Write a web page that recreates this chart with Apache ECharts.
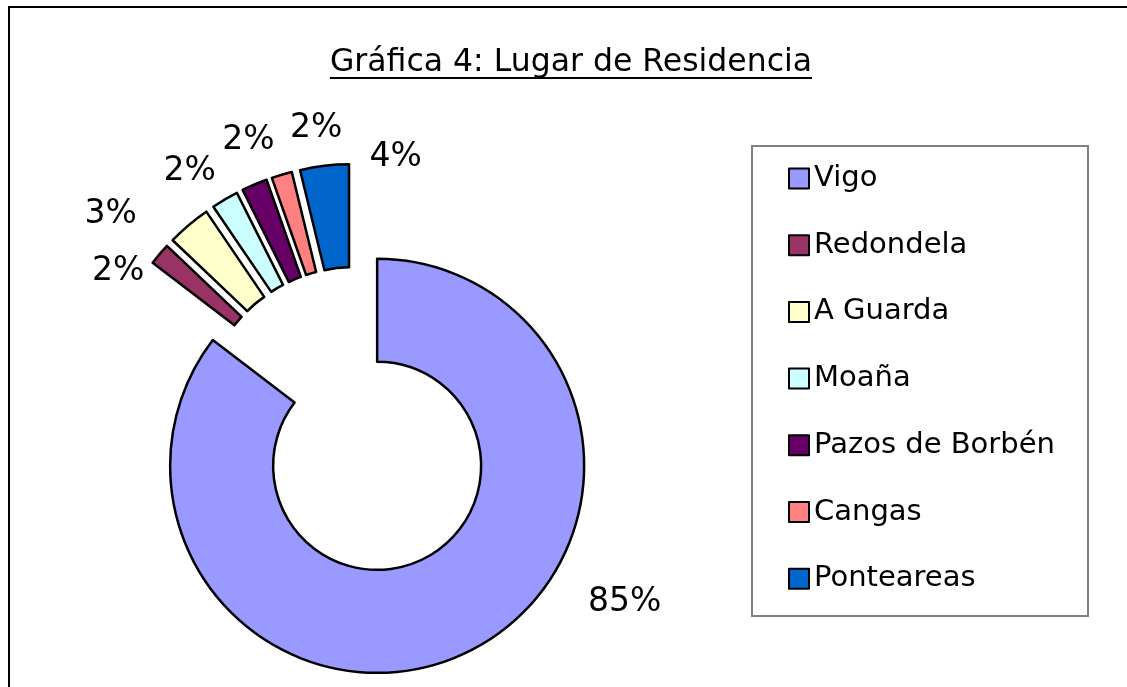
<!DOCTYPE html>
<html>
<head>
<meta charset="utf-8">
<script src="https://cdn.jsdelivr.net/npm/echarts@6/dist/echarts.min.js"></script>
<style>
  html, body { margin: 0; padding: 0; background: #fff; }
  #chart { width: 1127px; height: 687px; }
</style>
</head>
<body>
<div id="chart"></div>
<script>
  // datos (porcentaje de cada lugar)
  const categories = ['Vigo', 'Redondela', 'A Guarda', 'Moaña', 'Pazos de Borbén', 'Cangas', 'Ponteareas'];
  const shares = [85.4, 1.7, 3.4, 2.1, 2.0, 1.6, 3.8];
  const colors = ['#9999FF', '#993366', '#FFFFCC', '#CCFFFF', '#660066', '#FF8080', '#0066CC'];
  const titleText = 'Gráfica 4: Lugar de Residencia';

  // desplazamiento de cada etiqueta respecto a su sitio por defecto (como en Excel)
  const labelShift = [[109, -60], [-1, 25], [-39, -1], [2, -18], [30, -33], [69, -35], [104, 4]];

  const font = '"DejaVu Sans", sans-serif';

  // ancho del título para el subrayado
  const ctx = document.createElement('canvas').getContext('2d');
  ctx.font = '31.5px "DejaVu Sans"';
  const titleW = ctx.measureText(titleText).width;
  const titleX = 571;

  const myChart = echarts.init(document.getElementById('chart'));
  myChart.setOption({
    animation: false,
    color: colors,
    graphic: [
      {type: 'rect', shape: {x: 9, y: 7, width: 1200, height: 800},
        style: {fill: null, stroke: '#000', lineWidth: 2}, silent: true},
      {type: 'text', x: titleX, y: 63,
        style: {text: titleText, font: '31.5px ' + font, fill: '#000',
          textAlign: 'center', textVerticalAlign: 'middle'}, silent: true},
      {type: 'line', shape: {x1: titleX - titleW / 2, y1: 78, x2: titleX + titleW / 2, y2: 78},
        style: {stroke: '#000', lineWidth: 2}, silent: true},
      {type: 'rect', shape: {x: 752, y: 146, width: 336, height: 470},
        style: {fill: '#fff', stroke: '#808080', lineWidth: 2}, silent: true, z: -1}
    ],
    legend: {
      data: categories,
      orient: 'vertical',
      left: 788,
      top: 164,
      padding: 0,
      itemWidth: 20,
      itemHeight: 20,
      itemGap: 37.7,
      icon: 'rect',
      selectedMode: false,
      textStyle: {fontFamily: font, fontSize: 29, lineHeight: 28, color: '#000'}
    },
    series: [
      {
        type: 'pie',
        center: [355, 421],
        radius: [104, 207],
        startAngle: 90,
        clockwise: true,
        selectedMode: 'multiple',
        selectedOffset: 50,
        avoidLabelOverlap: false,
        silent: true,
        itemStyle: {borderColor: '#000', borderWidth: 2.5},
        select: {itemStyle: {borderColor: '#000', borderWidth: 2.5}},
        label: {
          show: true,
          position: 'outside',
          fontFamily: font,
          fontSize: 33,
          color: '#000',
          formatter: p => Math.round(p.percent) + '%'
        },
        labelLine: {show: false, length: 12, length2: 0},
        labelLayout: p => ({
          hideOverlap: false,
          moveOverlap: null,
          dx: labelShift[p.dataIndex][0],
          dy: labelShift[p.dataIndex][1]
        }),
        data: categories.map((name, i) => ({name, value: shares[i], selected: true}))
      }
    ]
  });
</script>
</body>
</html>
